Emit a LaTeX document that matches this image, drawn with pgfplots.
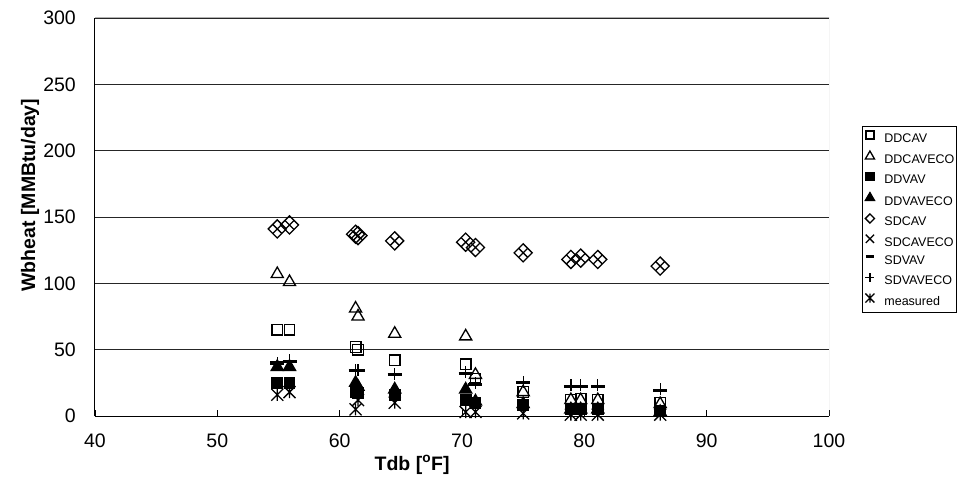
\documentclass[border=0pt]{standalone}
\usepackage{pgfplots}
\usepackage{pgfplotstable}
\pgfplotsset{compat=1.18}
\usetikzlibrary{calc}
\usepackage{fontspec}
\setmainfont{Liberation Sans}

% marks with full-size arms (pgf's own x is shrunk by 0.707)
\pgfdeclareplotmark{xcross}{%
  \pgfpathmoveto{\pgfqpoint{-\pgfplotmarksize}{-\pgfplotmarksize}}%
  \pgfpathlineto{\pgfqpoint{\pgfplotmarksize}{\pgfplotmarksize}}%
  \pgfpathmoveto{\pgfqpoint{-\pgfplotmarksize}{\pgfplotmarksize}}%
  \pgfpathlineto{\pgfqpoint{\pgfplotmarksize}{-\pgfplotmarksize}}%
  \pgfusepathqstroke}
\pgfdeclareplotmark{xstar}{%
  \pgfpathmoveto{\pgfqpoint{-\pgfplotmarksize}{-\pgfplotmarksize}}%
  \pgfpathlineto{\pgfqpoint{\pgfplotmarksize}{\pgfplotmarksize}}%
  \pgfpathmoveto{\pgfqpoint{-\pgfplotmarksize}{\pgfplotmarksize}}%
  \pgfpathlineto{\pgfqpoint{\pgfplotmarksize}{-\pgfplotmarksize}}%
  \pgfpathmoveto{\pgfqpoint{0pt}{-\pgfplotmarksize}}%
  \pgfpathlineto{\pgfqpoint{0pt}{\pgfplotmarksize}}%
  \pgfusepathqstroke}
\pgfdeclareplotmark{dash}{%
  \pgfpathmoveto{\pgfqpoint{-\pgfplotmarksize}{0pt}}%
  \pgfpathlineto{\pgfqpoint{\pgfplotmarksize}{0pt}}%
  \pgfusepathqstroke}
\pgfdeclareplotmark{plus}{%
  \pgfpathmoveto{\pgfqpoint{-\pgfplotmarksize}{0pt}}%
  \pgfpathlineto{\pgfqpoint{\pgfplotmarksize}{0pt}}%
  \pgfpathmoveto{\pgfqpoint{0pt}{-\pgfplotmarksize}}%
  \pgfpathlineto{\pgfqpoint{0pt}{\pgfplotmarksize}}%
  \pgfusepathqstroke}

% daily heating energy against dry-bulb temperature
\pgfplotstableread{
T    DDCAV DDCAVECO DDVAV DDVAVECO SDCAV SDCAVECO SDVAV SDVAVECO measured
54.9 65    107      25    37       141   141      40    40       16
55.9 65    101      25    37       144   144      41    42       18
61.3 52    81       18    25       137   137      34    35       5
61.5 50    75       17    22       136   136      34    35       12
64.5 42    62       16    20       132   132      31    32       10
70.3 39    60       12    20       131   131      32    33       3
71.1 28    31       10    11       127   127      24    25       3
75.0 18    18       8     9        123   123      25    26       2
78.9 12    12       5     5        118   118      22    23       1
79.7 13    12       5     5        119   119      22    23       1
81.1 12    12       5     5        118   118      22    23       1
86.2 10    9        4     3        113   113      19    20       1
}\heatdata

\begin{document}
\begin{tikzpicture}
\begin{axis}[
  name=ax,
  scale only axis,
  width=734bp, height=398bp,
  xmin=40, xmax=100, ymin=0, ymax=300,
  enlargelimits=false,
  axis lines*=left,
  axis line style={-, black, line width=1bp},
  every outer x axis line/.append style={-},
  every outer y axis line/.append style={-},
  xtick={40,50,...,100},
  ytick={0,50,...,300},
  xtick align=inside,
  major tick length=6bp,
  xtick style={black, line width=0.8bp},
  ytick style={draw=none},
  ymajorgrids,
  major grid style={black!85, line width=0.9bp},
  /pgf/number format/assume math mode=true,
  tick label style={font=\fontsize{19.5bp}{23bp}\selectfont},
  xticklabel style={anchor=north, inner sep=0pt, yshift=-18bp},
  yticklabel style={anchor=east, inner sep=0pt, xshift=-19bp},
  xlabel={Tdb [\textsuperscript{o}F]},
  ylabel={Wbheat [MMBtu/day]},
  label style={font=\bfseries\fontsize{19.5bp}{23bp}\selectfont},
  xlabel style={at={(axis description cs:0.432,-0.123)}, anchor=center},
  ylabel style={at={(axis description cs:-0.0886,0.555)}, anchor=center},
  legend style={
    at={(axis description cs:1.045,0.7286)}, anchor=north west,
    draw=black, line width=0.8bp,
    font=\fontsize{12.5bp}{14bp}\selectfont,
    inner xsep=2bp, inner ysep=4.5bp,
    row sep=6.2bp,
    nodes={inner sep=0bp, text height=9bp, text depth=2.5bp},
  },
  legend cell align=left,
  legend image code/.code={%
    \draw[/tikz/every mark/.append style={scale=0.75}] plot coordinates {(4.5bp,4.2bp)};
    \path[draw=none, fill=none] (-1bp,0bp) rectangle (19bp,6bp);},
  every axis plot/.append style={only marks, black, line width=1.3bp},
]
\addplot[mark=square, mark size=5.3bp] table[x=T, y=DDCAV] {\heatdata};
\addlegendentry{DDCAV}
\addplot[mark=triangle, mark size=7bp] table[x=T, y=DDCAVECO] {\heatdata};
\addlegendentry{DDCAVECO}
\addplot[mark=square*, mark size=5.3bp] table[x=T, y=DDVAV] {\heatdata};
\addlegendentry{DDVAV}
\addplot[mark=triangle*, mark size=7bp] table[x=T, y=DDVAVECO] {\heatdata};
\addlegendentry{DDVAVECO}
\addplot[mark=square, mark size=6.4bp, mark options={rotate=45},
  legend image post style={mark size=4.3bp}] table[x=T, y=SDCAV] {\heatdata};
\addlegendentry{SDCAV}
\addplot[mark=xcross, mark size=4.5bp,
  legend image post style={mark size=5.5bp}] table[x=T, y=SDCAVECO] {\heatdata};
\addlegendentry{SDCAVECO}
\addplot[mark=dash, mark size=7bp, line width=3.2bp,
  legend image post style={mark size=5.5bp}] table[x=T, y=SDVAV] {\heatdata};
\addlegendentry{SDVAV}
\addplot[mark=plus, mark size=6bp] table[x=T, y=SDVAVECO] {\heatdata};
\addlegendentry{SDVAVECO}
\addplot[mark=xstar, mark size=6bp] table[x=T, y=measured] {\heatdata};
\addlegendentry{measured}
\draw[gray!60, line width=1bp] (rel axis cs:0,1) -- (rel axis cs:1,1) -- (rel axis cs:1,0);
\end{axis}
\pgfresetboundingbox
\path[use as bounding box] ($(ax.south west)+(-95bp,-83bp)$) rectangle ($(ax.north east)+(129bp,18bp)$);
\end{tikzpicture}
\end{document}
